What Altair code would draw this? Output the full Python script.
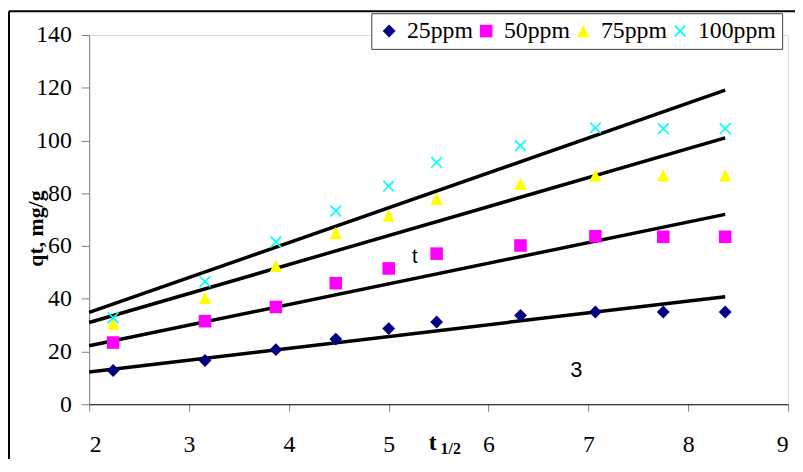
import altair as alt
import pandas as pd

# ---- data ----
series = ["25ppm", "50ppm", "75ppm", "100ppm"]
x_vals = [2.24, 3.16, 3.87, 4.47, 5.00, 5.48, 6.32, 7.07, 7.75, 8.37]
q_25 = [12.8, 16.6, 20.7, 24.7, 28.7, 31.2, 33.7, 35.0, 35.0, 35.0]
q_50 = [23.4, 31.5, 36.9, 45.9, 51.5, 57.1, 60.2, 63.7, 63.5, 63.5]
q_75 = [30.5, 40.3, 52.5, 65.0, 71.5, 77.9, 83.6, 86.8, 86.8, 86.8]
q_100 = [32.8, 46.5, 61.5, 73.3, 82.7, 91.7, 98.0, 104.8, 104.5, 104.5]

# trend line end points (x start/end, q at start/end)
trend_x = [2.0, 8.37]
trend_start = [12.25, 22.2, 31.0, 34.8]
trend_end = [40.8, 72.0, 101.0, 119.1]

# stray annotations in the plot
ann_text = ["t", "3"]
ann_x = [5.26, 6.88]
ann_y = [55.9, 13.1]
ann_size = [20, 22]

x_ticks = [2, 3, 4, 5, 6, 7, 8, 9]
y_ticks = [0, 20, 40, 60, 80, 100, 120, 140]

colors = ["#000080", "#FF00FF", "#FFFF00", "#00FFFF"]
a = 0.2
x_path = (f"M-1,{-1+a}L{-1+a},-1L0,{-a}L{1-a},-1L1,{-1+a}L{a},0L1,{1-a}"
          f"L{1-a},1L0,{a}L{-1+a},1L-1,{1-a}L{-a},0Z")
shapes = ["diamond", "square", "M0,-1L1,1L-1,1Z", x_path]
sizes = [169, 144, 225, 225]

# ---- tables ----
pts = pd.DataFrame(
    [{"x": x, "q": q, "series": s}
     for s, qs in zip(series, [q_25, q_50, q_75, q_100])
     for x, q in zip(x_vals, qs)]
)
trend = pd.DataFrame(
    [{"x": trend_x[0], "q": st, "series": s} for s, st in zip(series, trend_start)]
    + [{"x": trend_x[1], "q": en, "series": s} for s, en in zip(series, trend_end)]
)
ann = pd.DataFrame({"text": ann_text, "x": ann_x, "q": ann_y, "size": ann_size})

W, H = 706, 373
xscale = alt.Scale(domain=[2, 9], nice=False, zero=False)
yscale = alt.Scale(domain=[0, 140], nice=False)

xaxis = alt.Axis(values=x_ticks, title=None, grid=False, tickSize=7,
                 tickColor="#808080", domainColor="#000000", domainWidth=1,
                 labelFont="Liberation Serif", labelFontSize=24, labelColor="black",
                 labelPadding=22, format="d")
yaxis = alt.Axis(values=y_ticks, grid=False, tickSize=8, tickColor="#808080",
                 domainColor="#808080", labelFont="Liberation Serif", labelFontSize=24,
                 labelColor="black", labelPadding=10, format="d",
                 title="qt, mg/g", titleFont="Liberation Serif", titleFontSize=22,
                 titleFontWeight="bold", titleColor="black", titleX=-54, titleY=195,
                 titleBaseline="middle", titleAngle=270)

points = alt.Chart(pts).mark_point(filled=True, opacity=1, strokeWidth=0).encode(
    x=alt.X("x:Q", scale=xscale, axis=xaxis),
    y=alt.Y("q:Q", scale=yscale, axis=yaxis),
    color=alt.Color("series:N", scale=alt.Scale(domain=series, range=colors),
                    legend=alt.Legend(orient="none", legendX=285, legendY=-22,
                                      direction="horizontal", title=None,
                                      labelFont="Liberation Serif", labelFontSize=24,
                                      labelColor="black", symbolSize=170,
                                      symbolStrokeWidth=0, strokeColor="#404040",
                                      padding=6, columnPadding=1, labelOffset=6,
                                      fillColor="white")),
    shape=alt.Shape("series:N", scale=alt.Scale(domain=series, range=shapes)),
    size=alt.Size("series:N", scale=alt.Scale(domain=series, range=sizes), legend=None),
)

lines = alt.Chart(trend).mark_line(color="black", strokeWidth=3.5).encode(
    x=alt.X("x:Q", scale=xscale),
    y=alt.Y("q:Q", scale=yscale),
    detail="series:N",
)

annots = alt.Chart(ann).mark_text(font="Liberation Sans", color="black").encode(
    x=alt.X("x:Q", scale=xscale),
    y=alt.Y("q:Q", scale=yscale),
    text="text:N",
    size=alt.Size("size:Q", scale=None, legend=None),
)

one = alt.Data(values=[{"k": 1}])
frame_top = alt.Chart(one).mark_rule(color="black", strokeWidth=2).encode(
    x=alt.value(-81), x2=alt.value(730), y=alt.value(-24))
frame_left = alt.Chart(one).mark_rule(color="black", strokeWidth=2).encode(
    x=alt.value(-81), y=alt.value(-24), y2=alt.value(440))

xt = alt.Chart(one).mark_text(font="Liberation Serif", fontWeight="bold", fontSize=24,
                              color="black", align="center", baseline="middle").encode(
    x=alt.value(347), y=alt.value(412), text=alt.value("t"))
xsub = alt.Chart(one).mark_text(font="Liberation Serif", fontWeight="bold", fontSize=16,
                                color="black", align="left", baseline="middle").encode(
    x=alt.value(355), y=alt.value(418), text=alt.value("1/2"))

chart = alt.layer(lines, points, annots, frame_top, frame_left, xt, xsub).properties(
    width=W, height=H,
    autosize=alt.AutoSizeParams(type="none"),
    padding={"left": 82, "top": 25, "right": 7, "bottom": 53},
).configure_view(stroke=None).configure(background="white")

chart.save("out.html", embed_options={"renderer": "svg", "actions": False})
